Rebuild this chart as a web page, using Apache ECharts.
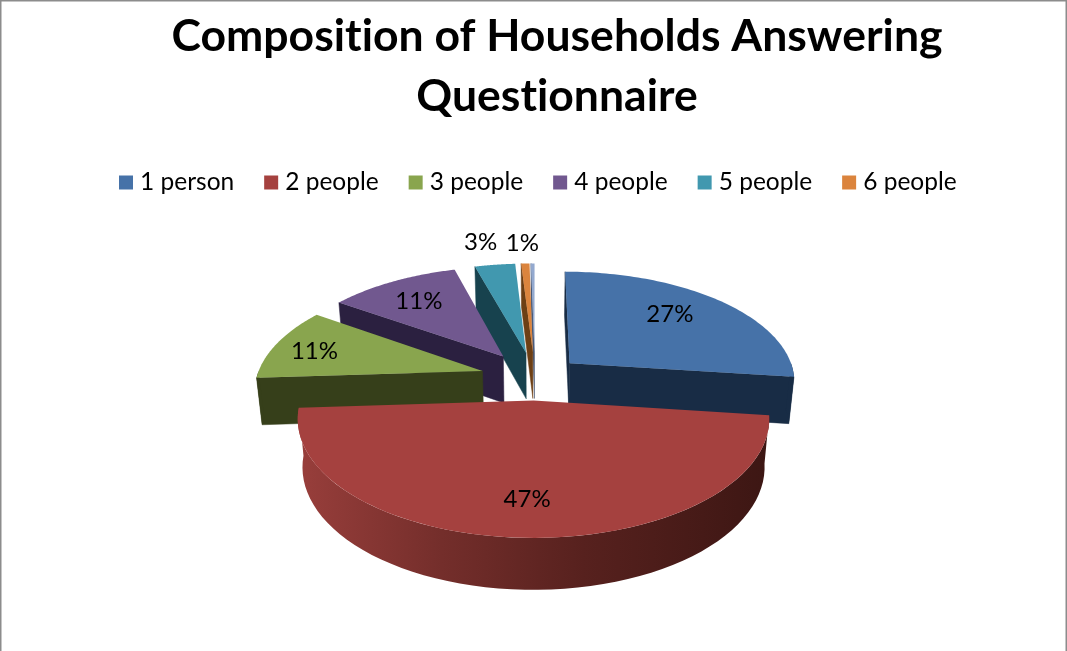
<!DOCTYPE html>
<html><head><meta charset="utf-8">
<style>html,body{margin:0;padding:0;background:#fff}#c{width:1067px;height:651px}</style>
<script src="https://cdn.jsdelivr.net/npm/echarts@6/dist/echarts.min.js"></script>
</head><body><div id="c"></div>
<script>
const sliceNames = ['1 person','2 people','3 people','4 people','5 people','6 people',''];
const sliceValues = [27,47,10.6,11,3.4,0.7,0.3];
const percentLabels = ['27%','47%','11%','11%','3%','1%',''];
const topColors = ['#4672a8','#a5413f','#89a54e','#71588f','#4198af','#db843d','#93a9cf'];
const wallColors = ['#182c45','#431916','#363f1a','#2b2040','#17424e','#6d3f14','#4a5a78'];
const drawOrder = [6,5,4,3,2,0,1];
const explosion = [47,45,55,56,55,55,55];
const labelRadius = [0.71,0.755,0.80,0.72,1.31,1.27,0];
const labelAngleShift = [-4,0,-2,-1,-1.5,-0.3,0];

// Canvas text without ligatures, as in the reference's font
const origFill=CanvasRenderingContext2D.prototype.fillText;
CanvasRenderingContext2D.prototype.fillText=function(){this.letterSpacing='0.01px';return origFill.apply(this,arguments);};

const C={cx:535,cy:378,R:226,k:0.484,p:0.15/226,h:47,shrink:0.98};
const total=sliceValues.reduce((a,b)=>a+b,0);
const starts=[];let acc=0;
sliceValues.forEach(v=>{starts.push(acc/total*Math.PI*2);acc+=v;});
function proj(X,Y,down){
  const s=1/(1-C.p*Y);
  let x=C.cx+X*s, y=C.cy+Y*C.k*s;
  if(down){x=C.cx+(x-C.cx)*C.shrink;y+=C.h*Math.sqrt(s);}
  return [x,y];
}
function renderSlice(i){
  const a0=starts[i],a1=a0+sliceValues[i]/total*Math.PI*2,mid=(a0+a1)/2;
  const ox=explosion[i]*Math.sin(mid),oy=-explosion[i]*Math.cos(mid);
  const at=(a,r,d)=>proj(ox+r*Math.sin(a),oy-r*Math.cos(a),d);
  const kids=[];
  const poly=(pts,fill)=>({type:'polygon',shape:{points:pts},style:{fill:fill,stroke:fill,lineWidth:0.5}});
  const wall=wallColors[i];
  if(Math.sin(a0)<0.02) kids.push(poly([at(0,0,false),at(a0,C.R,false),at(a0,C.R,true),at(0,0,true)],wall));
  if(Math.sin(a1)>0.02) kids.push(poly([at(0,0,false),at(a1,C.R,false),at(a1,C.R,true),at(0,0,true)],wall));
  const from=Math.max(a0,Math.PI/2),to=Math.min(a1,Math.PI*1.5);
  if(to>from){
    const pts=[];const m=60;
    for(let j=0;j<=m;j++)pts.push(at(from+(to-from)*j/m,C.R,false));
    for(let j=m;j>=0;j--)pts.push(at(from+(to-from)*j/m,C.R,true));
    const fill = i===1 ? {type:'linear',x:300,y:0,x2:772,y2:0,global:true,colorStops:[
      {offset:0,color:'#983e3b'},{offset:0.3,color:'#742e2b'},{offset:0.6,color:'#57211e'},{offset:1,color:'#3c1613'}]} : wall;
    kids.push({type:'polygon',shape:{points:pts},style:{fill:fill}});
  }
  const top=[at(0,0,false)];
  const m=80;for(let j=0;j<=m;j++)top.push(at(a0+(a1-a0)*j/m,C.R,false));
  kids.push({type:'polygon',shape:{points:top},style:{fill:topColors[i]}});
  if(percentLabels[i]){
    const la=mid+labelAngleShift[i]*Math.PI/180;
    const q=proj(ox+C.R*labelRadius[i]*Math.sin(la),oy-C.R*labelRadius[i]*Math.cos(la),false);
    kids.push({type:'text',x:q[0],y:q[1],z2:100,style:{text:percentLabels[i],fill:'#000',font:'24px Lato, "Open Sans", sans-serif',align:'center',verticalAlign:'middle'}});
  }
  return {type:'group',children:kids};
}
const chart=echarts.init(document.getElementById('c'),null,{renderer:'canvas'});
chart.setOption({
  animation:false,
  backgroundColor:'#fff',
  title:{text:'Composition of Households Answering\nQuestionnaire',left:552,top:2,textAlign:'center',
    textStyle:{fontFamily:'Lato',fontWeight:'bold',fontSize:44.5,lineHeight:60,color:'#000'}},
  legend:{data:sliceNames.slice(0,6),top:165,left:114,itemWidth:14,itemHeight:14,itemGap:30,icon:'rect',
    textStyle:{fontFamily:'Lato',fontSize:24.5,color:'#000',padding:[0,0,0,2]}},
  graphic:[{type:'rect',shape:{x:0,y:0,width:1067,height:700},style:{fill:'none',stroke:'#8c8c8c',lineWidth:3},silent:true}],
  series:drawOrder.map((i,order)=>({
    type:'custom',name:sliceNames[i],coordinateSystem:'none',z:2+order,silent:true,
    itemStyle:{color:topColors[i]},
    data:[sliceValues[i]],
    renderItem:()=>renderSlice(i)
  }))
});
</script></body></html>
